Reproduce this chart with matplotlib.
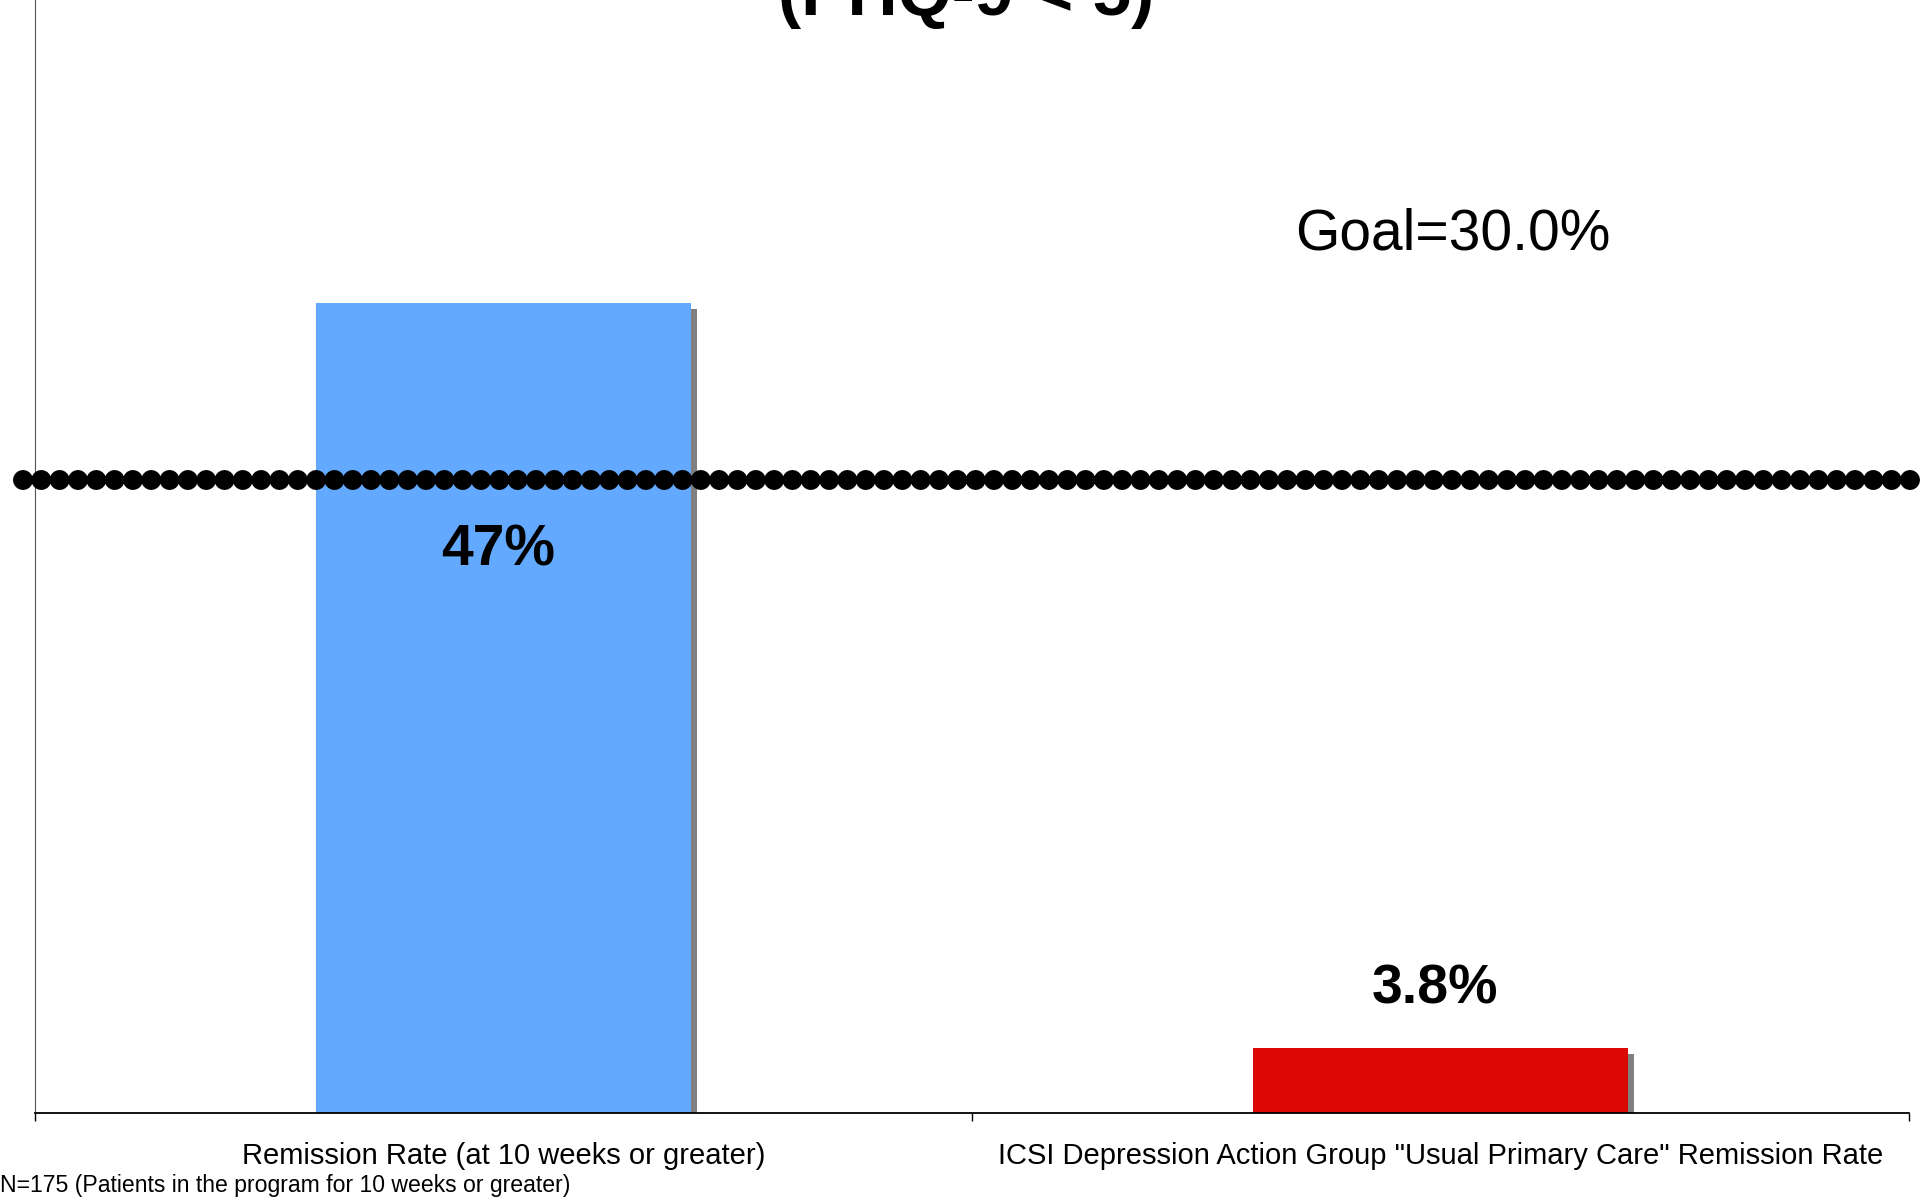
import matplotlib.pyplot as plt
import matplotlib.patheffects as pe

# Data
categories = ["Remission Rate (at 10 weeks or greater)",
              "ICSI Depression Action Group \"Usual Primary Care\" Remission Rate"]
values = [47.0, 3.8]
value_labels = ["47%", "3.8%"]
bar_colors = ["#62A9FF", "#DC0806"]
goal_label = "Goal=30.0%"
goal_line_value = 36.75  # where the dotted goal line sits on the value scale
title_text = "(PHQ-9 < 5)"
footnote = "N=175 (Patients in the program for 10 weeks or greater)"

plt.rcParams['font.family'] = ['Liberation Sans', 'DejaVu Sans']

W, H = 1933, 1197
PX = 0.72  # points per pixel at dpi 100
fig = plt.figure(figsize=(W / 100, H / 100), dpi=100)
ax = fig.add_axes([35 / W, (H - 1113.3) / H, (1909 - 35) / W, 1113.3 / H])

x = list(range(len(categories)))
bars = ax.bar(x, values, width=0.40, color=bar_colors, zorder=2)
for b in bars:
    b.set_path_effects([pe.SimplePatchShadow(offset=(4.3, -4.3), shadow_rgbFace="#808080", alpha=1.0),
                        pe.Normal()])

ax.set_xlim(-0.5, 1.5)
ax.set_ylim(0, 64.6)

# dotted goal line made of big round dots
ax.axhline(goal_line_value, xmin=-0.0064, xmax=1.0048, color="black", lw=14.4,
           linestyle=(0, (0.001, 0.915)), dash_capstyle="round", clip_on=False, zorder=3)

# value labels
ax.annotate(value_labels[0], (x[0], values[0]), xytext=(-5 * PX, -262 * PX), textcoords="offset points",
            ha="center", va="baseline", fontsize=41, fontweight="bold", zorder=4)
ax.annotate(value_labels[1], (x[1], values[1]), xytext=(-5 * PX, 44 * PX), textcoords="offset points",
            ha="center", va="baseline", fontsize=40, fontweight="bold", zorder=4)

ax.annotate(goal_label, (1.0, goal_line_value), xytext=(12 * PX, 230 * PX), textcoords="offset points",
            ha="center", va="baseline", fontsize=41)

# axes styling
for s in ["top", "right"]:
    ax.spines[s].set_visible(False)
ax.spines["left"].set_color("#555555")
ax.spines["left"].set_linewidth(0.8)
ax.spines["bottom"].set_linewidth(1.3)
ax.set_yticks([])
ax.set_xticks([-0.5, 0.5, 1.5])
ax.set_xticklabels(["", "", ""])
ax.tick_params(axis="x", which="major", length=6, width=1, direction="out")
ax.set_xticks(x, minor=True)
ax.set_xticklabels(categories, minor=True, fontsize=21)
ax.tick_params(axis="x", which="minor", length=0, pad=21)

fig.text(0.5, 1 - 15 / H, title_text, ha="center", va="baseline", fontsize=50, fontweight="bold")
fig.text(0.0, 1 - 1192 / H, footnote, ha="left", va="baseline", fontsize=16.6)

fig.savefig("out.png", dpi=100)
